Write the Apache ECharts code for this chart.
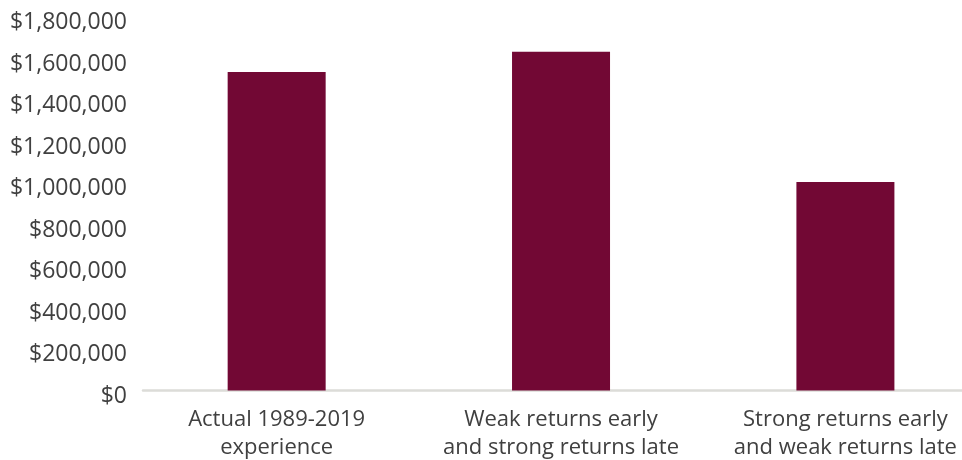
<!DOCTYPE html>
<html>
<head>
<meta charset="utf-8">
<script src="https://cdn.jsdelivr.net/npm/echarts@6/dist/echarts.min.js"></script>
<style>
html,body{margin:0;padding:0;background:#fff;}
#chart{width:962px;height:460px;}
</style>
</head>
<body>
<div id="chart"></div>
<script>
const categories = ['Actual 1989-2019\nexperience', 'Weak returns early\nand strong returns late', 'Strong returns early\nand weak returns late'];
const values = [1533000, 1630000, 1003000];
const yMin = 0, yMax = 1800000, yStep = 200000;

const chart = echarts.init(document.getElementById('chart'));
const FONT = 'Open Sans';
chart.setOption({
  animation: false,
  grid: {left: 143, right: 0, top: 16.5, bottom: 69.5, containLabel: false, outerBoundsMode: 'none'},
  xAxis: {
    type: 'value', min: -0.47, max: 2.41,
    splitLine: {show: false},
    axisLine: {show: true, onZero: false, lineStyle: {color: '#dcdcd8', width: 2.5}},
    axisTick: {show: false},
    axisLabel: {
      customValues: categories.map((c, i) => i),
      formatter: v => categories[Math.round(v)] || '',
      color: '#404040', fontFamily: FONT, fontSize: 22, lineHeight: 28, margin: 15,
      showMinLabel: true, showMaxLabel: true, hideOverlap: false
    }
  },
  yAxis: {
    type: 'value', min: yMin, max: yMax, interval: yStep,
    splitLine: {show: false}, axisLine: {show: false}, axisTick: {show: false},
    axisLabel: {
      margin: 16,
      formatter: v => '{v|$' + v.toLocaleString('en-US') + '}',
      rich: {v: {color: '#404040', fontFamily: FONT, fontSize: 23, padding: [12, 0, 0, 0]}}
    }
  },
  series: [{
    type: 'bar', data: values.map((v, i) => [i, v]), barWidth: 98,
    itemStyle: {color: '#720834'}
  }]
});
</script>
</body>
</html>
